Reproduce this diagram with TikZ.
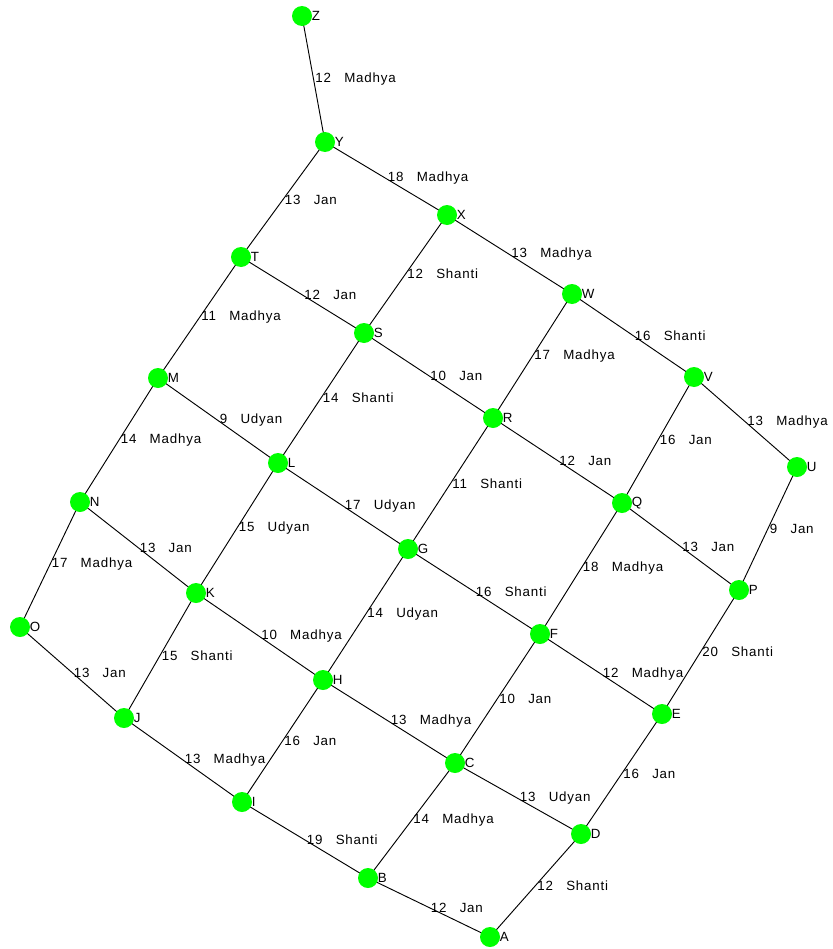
\documentclass[tikz,border=0pt]{standalone}
\usepackage{fontspec}
\setmainfont[LetterSpace=6]{Liberation Sans}
\usepackage{tikz}
\usetikzlibrary{positioning}
\definecolor{dotgreen}{RGB}{0,255,0}
\newcommand{\lgap}{\hspace{10pt}}
\tikzset{
  town/.style={circle, fill=dotgreen, draw=none, minimum size=15pt, inner sep=0pt,
    label={[townname]right:#1}},
  townname/.style={font=\fontsize{10}{11}\selectfont, inner sep=0.5pt, label distance=-1pt},
  road/.style={draw=black, line width=0.7pt},
  wlabel/.style={anchor=west, inner sep=1pt, font=\fontsize{10}{11}\selectfont}
}
\begin{document}
\begin{tikzpicture}[x=0.75pt, y=-0.75pt]
  \useasboundingbox (0,0) rectangle (832,949);

  % roads first
  \coordinate (z0) at (302,16);
  \coordinate (y0) at (325,142);
  \coordinate (x0) at (447,215);
  \coordinate (w0) at (572,294);
  \coordinate (v0) at (694,377);
  \coordinate (u0) at (797,467);
  \coordinate (t0) at (241,257);
  \coordinate (s0) at (364,333);
  \coordinate (r0) at (493,418);
  \coordinate (q0) at (622,503);
  \coordinate (p0) at (739,590);
  \coordinate (m0) at (158,378);
  \coordinate (l0) at (278,463);
  \coordinate (g0) at (408,549);
  \coordinate (f0) at (540,634);
  \coordinate (e0) at (662,714);
  \coordinate (n0) at (80,502);
  \coordinate (k0) at (196,593);
  \coordinate (h0) at (323,680);
  \coordinate (c0) at (455,763);
  \coordinate (d0) at (581,834);
  \coordinate (o0) at (20,627);
  \coordinate (j0) at (124,718);
  \coordinate (i0) at (242,802);
  \coordinate (b0) at (368,878);
  \coordinate (a0) at (490,937);

  \draw[road] (z0) -- node[wlabel]{12\lgap Madhya} (y0);
  \draw[road] (y0) -- node[wlabel]{18\lgap Madhya} (x0);
  \draw[road] (y0) -- node[wlabel]{13\lgap Jan} (t0);
  \draw[road] (x0) -- node[wlabel]{13\lgap Madhya} (w0);
  \draw[road] (x0) -- node[wlabel]{12\lgap Shanti} (s0);
  \draw[road] (w0) -- node[wlabel]{16\lgap Shanti} (v0);
  \draw[road] (w0) -- node[wlabel]{17\lgap Madhya} (r0);
  \draw[road] (v0) -- node[wlabel]{13\lgap Madhya} (u0);
  \draw[road] (v0) -- node[wlabel]{16\lgap Jan} (q0);
  \draw[road] (u0) -- node[wlabel]{9\lgap Jan} (p0);
  \draw[road] (t0) -- node[wlabel]{12\lgap Jan} (s0);
  \draw[road] (t0) -- node[wlabel]{11\lgap Madhya} (m0);
  \draw[road] (s0) -- node[wlabel]{10\lgap Jan} (r0);
  \draw[road] (s0) -- node[wlabel]{14\lgap Shanti} (l0);
  \draw[road] (r0) -- node[wlabel]{12\lgap Jan} (q0);
  \draw[road] (r0) -- node[wlabel]{11\lgap Shanti} (g0);
  \draw[road] (q0) -- node[wlabel]{13\lgap Jan} (p0);
  \draw[road] (q0) -- node[wlabel]{18\lgap Madhya} (f0);
  \draw[road] (p0) -- node[wlabel]{20\lgap Shanti} (e0);
  \draw[road] (m0) -- node[wlabel]{9\lgap Udyan} (l0);
  \draw[road] (m0) -- node[wlabel]{14\lgap Madhya} (n0);
  \draw[road] (l0) -- node[wlabel]{17\lgap Udyan} (g0);
  \draw[road] (l0) -- node[wlabel]{15\lgap Udyan} (k0);
  \draw[road] (g0) -- node[wlabel]{16\lgap Shanti} (f0);
  \draw[road] (g0) -- node[wlabel]{14\lgap Udyan} (h0);
  \draw[road] (f0) -- node[wlabel]{12\lgap Madhya} (e0);
  \draw[road] (f0) -- node[wlabel]{10\lgap Jan} (c0);
  \draw[road] (e0) -- node[wlabel]{16\lgap Jan} (d0);
  \draw[road] (n0) -- node[wlabel]{13\lgap Jan} (k0);
  \draw[road] (n0) -- node[wlabel]{17\lgap Madhya} (o0);
  \draw[road] (k0) -- node[wlabel]{10\lgap Madhya} (h0);
  \draw[road] (k0) -- node[wlabel]{15\lgap Shanti} (j0);
  \draw[road] (h0) -- node[wlabel]{13\lgap Madhya} (c0);
  \draw[road] (h0) -- node[wlabel]{16\lgap Jan} (i0);
  \draw[road] (c0) -- node[wlabel]{13\lgap Udyan} (d0);
  \draw[road] (c0) -- node[wlabel]{14\lgap Madhya} (b0);
  \draw[road] (d0) -- node[wlabel]{12\lgap Shanti} (a0);
  \draw[road] (o0) -- node[wlabel]{13\lgap Jan} (j0);
  \draw[road] (j0) -- node[wlabel]{13\lgap Madhya} (i0);
  \draw[road] (i0) -- node[wlabel]{19\lgap Shanti} (b0);
  \draw[road] (b0) -- node[wlabel]{12\lgap Jan} (a0);

  % towns on top
  \node[town=Z] (Z) at (z0) {};
  \node[town=Y] (Y) at (y0) {};
  \node[town=X] (X) at (x0) {};
  \node[town=W] (W) at (w0) {};
  \node[town=V] (V) at (v0) {};
  \node[town=U] (U) at (u0) {};
  \node[town=T] (T) at (t0) {};
  \node[town=S] (S) at (s0) {};
  \node[town=R] (R) at (r0) {};
  \node[town=Q] (Q) at (q0) {};
  \node[town=P] (P) at (p0) {};
  \node[town=M] (M) at (m0) {};
  \node[town=L] (L) at (l0) {};
  \node[town=G] (G) at (g0) {};
  \node[town=F] (F) at (f0) {};
  \node[town=E] (E) at (e0) {};
  \node[town=N] (N) at (n0) {};
  \node[town=K] (K) at (k0) {};
  \node[town=H] (H) at (h0) {};
  \node[town=C] (C) at (c0) {};
  \node[town=D] (D) at (d0) {};
  \node[town=O] (O) at (o0) {};
  \node[town=J] (J) at (j0) {};
  \node[town=I] (I) at (i0) {};
  \node[town=B] (B) at (b0) {};
  \node[town=A] (A) at (a0) {};
\end{tikzpicture}
\end{document}
